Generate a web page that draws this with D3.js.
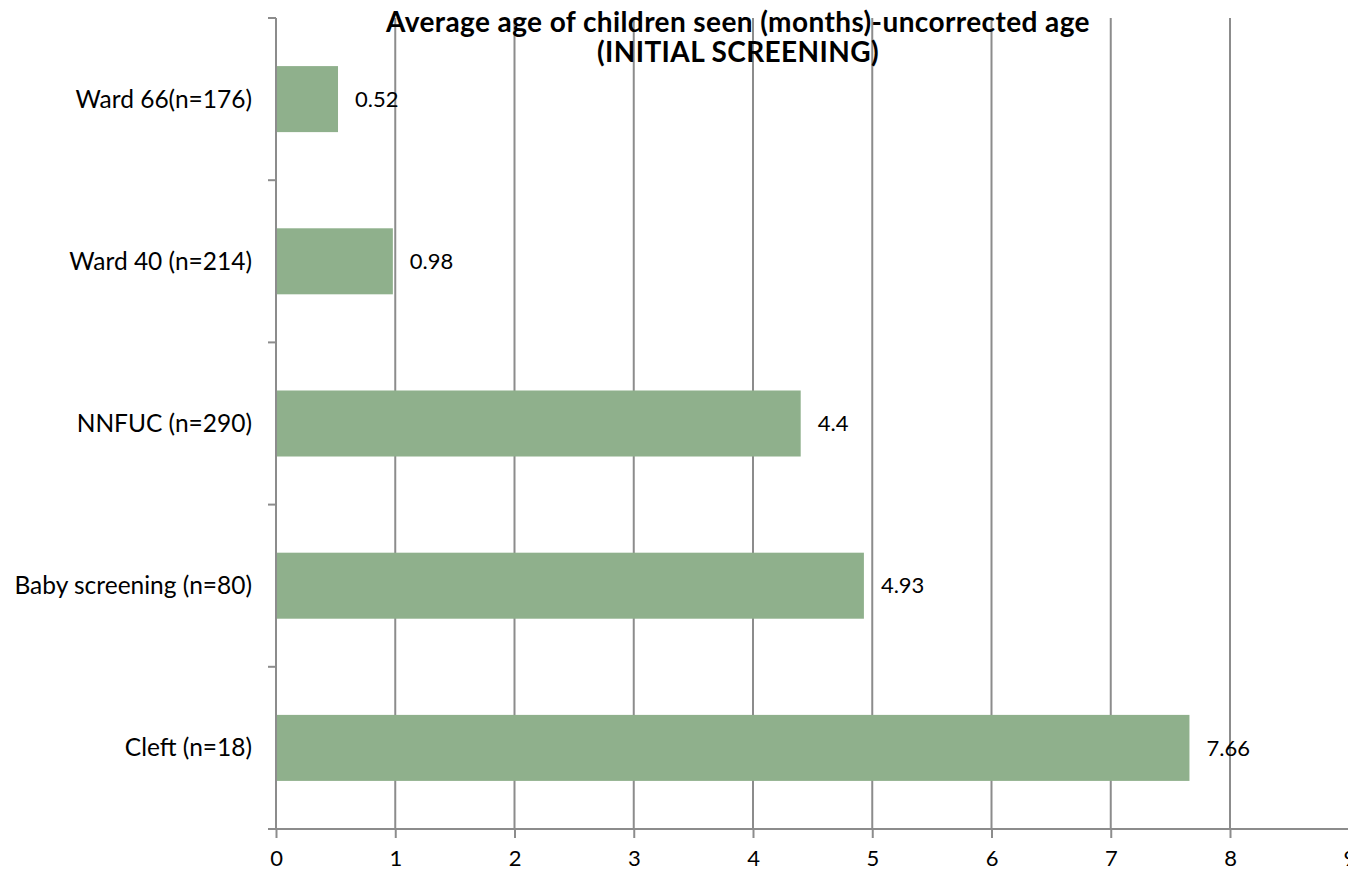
<!DOCTYPE html>
<html>
<head>
<meta charset="utf-8">
<script src="https://cdn.jsdelivr.net/npm/d3@7"></script>
<style>
  html, body { margin: 0; padding: 0; background: #fff; }
  svg { display: block; font-family: "Lato", "Open Sans", sans-serif; }
</style>
</head>
<body>
<svg id="chart" width="1348" height="873"></svg>
<script>
// Average age (months) at initial screening, by clinic
const categories = ["Ward 66(n=176)", "Ward 40 (n=214)", "NNFUC (n=290)", "Baby screening (n=80)", "Cleft (n=18)"];
const values = [0.52, 0.98, 4.4, 4.93, 7.66];
const valueLabels = ["0.52", "0.98", "4.4", "4.93", "7.66"];
const xTicks = [0, 1, 2, 3, 4, 5, 6, 7, 8, 9];
const titleLines = ["Average age of children seen (months)-uncorrected age", "(INITIAL SCREENING)"];

const svg = d3.select("#chart");
const plot = { left: 276, right: 1349.25, top: 18, bottom: 829 };
const gridColor = "#8c8c8c";
const barColor = "#8fb08c";

const x = d3.scaleLinear().domain([0, 9]).range([plot.left, plot.right]);
const pad = 0.593;
const y = d3.scaleBand().domain(categories).range([plot.top, plot.bottom])
  .paddingInner(pad).paddingOuter(pad / 2);

// vertical gridlines
svg.append("g").selectAll("line").data(xTicks.filter(d => d > 0)).join("line")
  .attr("x1", d => x(d)).attr("x2", d => x(d))
  .attr("y1", plot.top).attr("y2", plot.bottom)
  .attr("stroke", gridColor).attr("stroke-width", 2);

// bars
svg.append("g").selectAll("rect").data(categories).join("rect")
  .attr("x", x(0))
  .attr("y", d => y(d))
  .attr("width", (d, i) => x(values[i]) - x(0))
  .attr("height", y.bandwidth())
  .attr("fill", barColor);

// value labels
svg.append("g").selectAll("text").data(categories).join("text")
  .attr("x", (d, i) => x(values[i]) + 17)
  .attr("y", d => y(d) + y.bandwidth() / 2)
  .attr("dy", "0.35em")
  .attr("font-size", 22)
  .attr("fill", "#000")
  .text((d, i) => valueLabels[i]);

// x axis
const xAxis = d3.axisBottom(x).tickValues(xTicks).tickSize(9).tickPadding(12).tickFormat(d3.format("d"));
const gx = svg.append("g").attr("transform", `translate(0,${plot.bottom})`).call(xAxis);
gx.select(".domain").remove();
gx.selectAll(".tick line").attr("stroke", gridColor).attr("stroke-width", 2);
gx.selectAll(".tick text").attr("font-size", 22).attr("fill", "#000").attr("font-family", "Lato, sans-serif");
svg.append("line")
  .attr("x1", plot.left - 8).attr("x2", plot.right + 2)
  .attr("y1", plot.bottom).attr("y2", plot.bottom)
  .attr("stroke", gridColor).attr("stroke-width", 2);

// y axis with ticks on band boundaries
svg.append("line")
  .attr("x1", plot.left).attr("x2", plot.left)
  .attr("y1", plot.top).attr("y2", plot.bottom)
  .attr("stroke", gridColor).attr("stroke-width", 2);
const boundaries = categories.map(c => y(c) - y.step() * pad / 2).concat([plot.bottom]);
svg.append("g").selectAll("line").data(boundaries).join("line")
  .attr("x1", plot.left - 8).attr("x2", plot.left)
  .attr("y1", d => d).attr("y2", d => d)
  .attr("stroke", gridColor).attr("stroke-width", 2);

// category labels
svg.append("g").selectAll("text").data(categories).join("text")
  .attr("x", plot.left - 24)
  .attr("y", d => y(d) + y.bandwidth() / 2)
  .attr("dy", "0.35em")
  .attr("text-anchor", "end")
  .attr("font-size", 24.5)
  .attr("fill", "#000")
  .text(d => d);

// two-line title
svg.append("g").selectAll("text").data(titleLines).join("text")
  .attr("x", 738)
  .attr("y", (d, i) => 32 + i * 30)
  .attr("text-anchor", "middle")
  .attr("font-size", 28)
  .attr("font-weight", "bold")
  .attr("letter-spacing", 0.4)
  .attr("fill", "#000")
  .text(d => d);
</script>
</body>
</html>
